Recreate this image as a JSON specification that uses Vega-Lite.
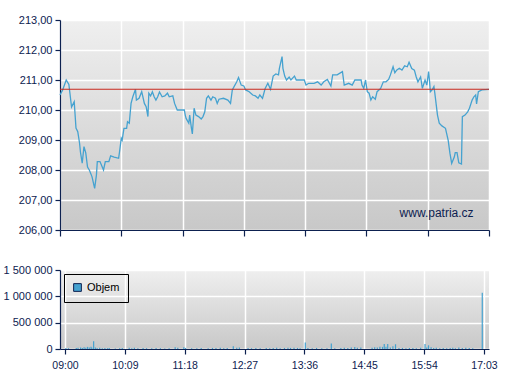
{
  "$schema": "https://vega.github.io/schema/vega-lite/v6.json",
  "padding": {"left": 3, "top": 14, "right": 10, "bottom": 5},
  "spacing": 27,
  "resolve": {"legend": {"color": "independent"}},
  "config": {
    "locale": {"number": {"decimal": ",", "thousands": " ", "grouping": [3], "currency": ["", " Kč"]}},
    "font": "Liberation Sans",
    "view": {
      "stroke": null,
      "fill": {"gradient": "linear", "x1": 0, "y1": 0, "x2": 0, "y2": 1,
        "stops": [{"offset": 0, "color": "#efefef"}, {"offset": 1, "color": "#c8c8c8"}]}
    },
    "axis": {
      "domainColor": "#0d2150", "domainWidth": 1.2, "tickColor": "#0d2150", "tickWidth": 1.2,
      "labelColor": "#0d2150", "labelFont": "Liberation Sans", "labelFontSize": 11, "labelOverlap": false, "labelFlush": false,
      "gridColor": "#ffffff", "gridWidth": 1.5, "gridOpacity": 1, "title": null
    }
  },
  "datasets": {
    "price": [
      {"t":540,"p":210.5},{"t":543,"p":210.67},{"t":547,"p":211.0},{"t":550,"p":210.85},{"t":553,"p":210.1},{"t":556,"p":210.28},{"t":558,"p":209.4},{"t":560,"p":209.28},{"t":562,"p":208.9},{"t":563,"p":208.6},{"t":565,"p":208.23},{"t":567,"p":208.78},{"t":569,"p":208.57},{"t":571,"p":208.1},{"t":573,"p":208.0},{"t":576,"p":207.78},{"t":579,"p":207.39},{"t":581,"p":207.83},{"t":582,"p":208.28},{"t":585,"p":208.28},{"t":589,"p":208.0},{"t":591,"p":208.28},{"t":595,"p":208.28},{"t":597,"p":208.47},{"t":601,"p":208.43},{"t":606,"p":208.39},{"t":607,"p":208.6},{"t":609,"p":209.06},{"t":610,"p":209.0},{"t":612,"p":209.39},{"t":615,"p":209.39},{"t":616,"p":209.61},{"t":618,"p":209.56},{"t":620,"p":210.22},{"t":622,"p":210.44},{"t":625,"p":210.69},{"t":626,"p":210.33},{"t":629,"p":210.39},{"t":632,"p":210.61},{"t":635,"p":210.22},{"t":637,"p":210.11},{"t":639,"p":209.78},{"t":640,"p":210.56},{"t":642,"p":210.47},{"t":644,"p":210.61},{"t":646,"p":210.44},{"t":648,"p":210.33},{"t":650,"p":210.44},{"t":652,"p":210.6},{"t":655,"p":210.44},{"t":658,"p":210.47},{"t":661,"p":210.56},{"t":663,"p":210.44},{"t":667,"p":210.47},{"t":669,"p":210.22},{"t":672,"p":210.0},{"t":680,"p":210.0},{"t":681,"p":209.83},{"t":682,"p":209.72},{"t":685,"p":209.56},{"t":686,"p":209.83},{"t":688,"p":209.39},{"t":689,"p":209.2},{"t":691,"p":210.06},{"t":693,"p":209.83},{"t":696,"p":209.78},{"t":699,"p":209.7},{"t":701,"p":209.78},{"t":703,"p":209.94},{"t":705,"p":210.39},{"t":707,"p":210.47},{"t":710,"p":210.33},{"t":712,"p":210.44},{"t":715,"p":210.39},{"t":717,"p":210.22},{"t":719,"p":210.36},{"t":724,"p":210.39},{"t":729,"p":210.33},{"t":732,"p":210.22},{"t":734,"p":210.67},{"t":736,"p":210.78},{"t":739,"p":210.94},{"t":741,"p":211.08},{"t":744,"p":210.83},{"t":747,"p":210.8},{"t":749,"p":210.67},{"t":753,"p":210.61},{"t":757,"p":210.5},{"t":760,"p":210.47},{"t":763,"p":210.39},{"t":765,"p":210.5},{"t":768,"p":210.39},{"t":769,"p":210.5},{"t":771,"p":210.72},{"t":774,"p":210.89},{"t":777,"p":210.69},{"t":780,"p":211.13},{"t":783,"p":211.2},{"t":786,"p":211.17},{"t":787,"p":211.39},{"t":790,"p":211.78},{"t":791,"p":211.39},{"t":793,"p":211.13},{"t":795,"p":211.0},{"t":798,"p":211.1},{"t":800,"p":211.0},{"t":804,"p":211.13},{"t":806,"p":211.0},{"t":815,"p":211.0},{"t":817,"p":210.83},{"t":820,"p":210.89},{"t":826,"p":210.89},{"t":830,"p":210.94},{"t":834,"p":210.83},{"t":837,"p":210.94},{"t":841,"p":211.02},{"t":845,"p":210.8},{"t":847,"p":211.17},{"t":852,"p":211.17},{"t":858,"p":211.28},{"t":860,"p":210.83},{"t":865,"p":210.89},{"t":869,"p":210.83},{"t":872,"p":211.0},{"t":879,"p":211.0},{"t":880,"p":210.83},{"t":882,"p":210.72},{"t":884,"p":211.0},{"t":886,"p":210.61},{"t":888,"p":210.56},{"t":890,"p":210.33},{"t":892,"p":210.44},{"t":895,"p":210.36},{"t":897,"p":210.61},{"t":901,"p":210.72},{"t":904,"p":210.94},{"t":907,"p":210.94},{"t":910,"p":211.02},{"t":912,"p":211.17},{"t":915,"p":211.44},{"t":917,"p":211.24},{"t":919,"p":211.33},{"t":922,"p":211.39},{"t":925,"p":211.33},{"t":928,"p":211.47},{"t":931,"p":211.44},{"t":933,"p":211.59},{"t":936,"p":211.38},{"t":939,"p":211.33},{"t":941,"p":211.11},{"t":943,"p":210.94},{"t":946,"p":211.1},{"t":948,"p":210.72},{"t":951,"p":211.0},{"t":953,"p":210.83},{"t":955,"p":211.28},{"t":956,"p":210.98},{"t":957,"p":210.61},{"t":959,"p":210.67},{"t":961,"p":210.78},{"t":962,"p":210.56},{"t":965,"p":209.83},{"t":967,"p":209.56},{"t":970,"p":209.47},{"t":974,"p":209.39},{"t":977,"p":209.0},{"t":979,"p":208.56},{"t":981,"p":208.22},{"t":984,"p":208.44},{"t":985,"p":208.58},{"t":987,"p":208.58},{"t":989,"p":208.24},{"t":992,"p":208.2},{"t":993,"p":209.78},{"t":996,"p":209.83},{"t":999,"p":209.94},{"t":1001,"p":210.06},{"t":1004,"p":210.33},{"t":1006,"p":210.44},{"t":1008,"p":210.5},{"t":1009,"p":210.2},{"t":1011,"p":210.61},{"t":1015,"p":210.67},{"t":1023,"p":210.69}
    ],
    "volume": [
      {"t":541,"v":20000},{"t":544,"v":15000},{"t":553,"v":20000},{"t":555,"v":25000},{"t":558,"v":30000},{"t":560,"v":20000},{"t":562,"v":35000},{"t":564,"v":25000},{"t":566,"v":40000},{"t":568,"v":30000},{"t":570,"v":45000},{"t":571,"v":25000},{"t":573,"v":145000},{"t":575,"v":30000},{"t":577,"v":20000},{"t":580,"v":25000},{"t":583,"v":15000},{"t":586,"v":20000},{"t":589,"v":15000},{"t":591,"v":20000},{"t":598,"v":10000},{"t":603,"v":15000},{"t":606,"v":20000},{"t":614,"v":25000},{"t":617,"v":15000},{"t":620,"v":25000},{"t":624,"v":15000},{"t":630,"v":20000},{"t":634,"v":15000},{"t":640,"v":15000},{"t":645,"v":20000},{"t":650,"v":15000},{"t":655,"v":10000},{"t":660,"v":15000},{"t":667,"v":35000},{"t":670,"v":25000},{"t":677,"v":35000},{"t":679,"v":20000},{"t":686,"v":15000},{"t":692,"v":15000},{"t":697,"v":20000},{"t":705,"v":15000},{"t":710,"v":20000},{"t":714,"v":20000},{"t":719,"v":25000},{"t":723,"v":15000},{"t":727,"v":20000},{"t":734,"v":50000},{"t":738,"v":25000},{"t":741,"v":30000},{"t":751,"v":20000},{"t":755,"v":15000},{"t":760,"v":20000},{"t":765,"v":15000},{"t":772,"v":20000},{"t":776,"v":15000},{"t":780,"v":20000},{"t":784,"v":25000},{"t":788,"v":15000},{"t":793,"v":20000},{"t":797,"v":25000},{"t":800,"v":20000},{"t":804,"v":25000},{"t":808,"v":20000},{"t":811,"v":15000},{"t":817,"v":125000},{"t":820,"v":20000},{"t":825,"v":15000},{"t":830,"v":20000},{"t":836,"v":15000},{"t":842,"v":15000},{"t":847,"v":105000},{"t":851,"v":15000},{"t":858,"v":20000},{"t":862,"v":25000},{"t":866,"v":20000},{"t":870,"v":30000},{"t":874,"v":40000},{"t":877,"v":25000},{"t":881,"v":30000},{"t":894,"v":25000},{"t":897,"v":35000},{"t":900,"v":30000},{"t":903,"v":45000},{"t":906,"v":40000},{"t":908,"v":95000},{"t":910,"v":45000},{"t":912,"v":95000},{"t":915,"v":30000},{"t":918,"v":50000},{"t":921,"v":90000},{"t":925,"v":20000},{"t":929,"v":20000},{"t":933,"v":15000},{"t":937,"v":20000},{"t":941,"v":20000},{"t":945,"v":15000},{"t":950,"v":25000},{"t":955,"v":95000},{"t":957,"v":30000},{"t":959,"v":70000},{"t":962,"v":35000},{"t":965,"v":20000},{"t":968,"v":25000},{"t":972,"v":15000},{"t":976,"v":20000},{"t":980,"v":15000},{"t":984,"v":20000},{"t":987,"v":25000},{"t":990,"v":15000},{"t":994,"v":30000},{"t":998,"v":20000},{"t":1002,"v":25000},{"t":1006,"v":20000},{"t":1010,"v":15000},{"t":1021,"v":1070000}
    ]
  },
  "vconcat": [
    {
      "width": 429,
      "height": 210,
      "encoding": {
        "x": {"type": "quantitative",
          "scale": {"domain": [540, 1023], "nice": false, "zero": false},
          "axis": {"values": [540, 609, 678, 747, 816, 885, 954, 1023], "labels": false, "tickSize": 6}},
        "y": {"type": "quantitative",
          "scale": {"domain": [206, 213], "nice": false, "zero": false},
          "axis": {"values": [206, 207, 208, 209, 210, 211, 212, 213], "format": ".2f", "tickSize": 5, "labelPadding": 3}}
      },
      "layer": [
        {
          "data": {"name": "price"},
          "mark": {"type": "line", "color": "#45a2d0", "strokeWidth": 1.3},
          "encoding": {
            "x": {"field": "t", "type": "quantitative"},
            "y": {"field": "p", "type": "quantitative"}
          }
        },
        {
          "data": {"values": [{}]},
          "mark": {"type": "rule", "color": "#c8281e", "strokeWidth": 1.1},
          "encoding": {"x": null, "y": {"datum": 210.69, "type": "quantitative"}}
        },
        {
          "data": {"values": [{}]},
          "mark": {"type": "text", "text": "www.patria.cz", "fontSize": 12, "font": "Liberation Sans", "color": "#0d2150", "align": "center", "baseline": "middle"},
          "encoding": {"x": {"datum": 964, "type": "quantitative"}, "y": {"datum": 206.57, "type": "quantitative"}}
        }
      ]
    },
    {
      "width": 429,
      "height": 79,
      "data": {"name": "volume"},
      "mark": {"type": "bar", "width": 1.2},
      "encoding": {
        "x": {"field": "t", "type": "quantitative",
          "scale": {"domain": [540, 1023], "nice": false, "zero": false},
          "axis": {"values": [540, 609, 678, 747, 816, 885, 954, 1023], "tickSize": 5, "labelFontSize": 10.5, "labelPadding": 6, "labelFlush": false,
            "labelExpr": "(floor(datum.value/60) < 10 ? '0' : '') + floor(datum.value/60) + ':' + (datum.value % 60 < 10 ? '0' : '') + (datum.value % 60)"}},
        "y": {"field": "v", "type": "quantitative",
          "scale": {"domain": [0, 1500000], "nice": false},
          "axis": {"values": [0, 500000, 1000000, 1500000], "format": ",.0f", "tickSize": 5, "labelPadding": 3}},
        "color": {"datum": "Objem", "type": "nominal",
          "scale": {"range": ["#45a2d0"]},
          "legend": {"title": null, "orient": "top-left", "offset": 4, "padding": 8, "strokeColor": "#000000",
            "symbolType": "square", "symbolSize": 60, "symbolStrokeColor": "#0d2150", "symbolStrokeWidth": 1,
            "labelFontSize": 11, "labelColor": "#000000", "labelFont": "Liberation Sans", "rowPadding": 0}}
      }
    }
  ]
}
